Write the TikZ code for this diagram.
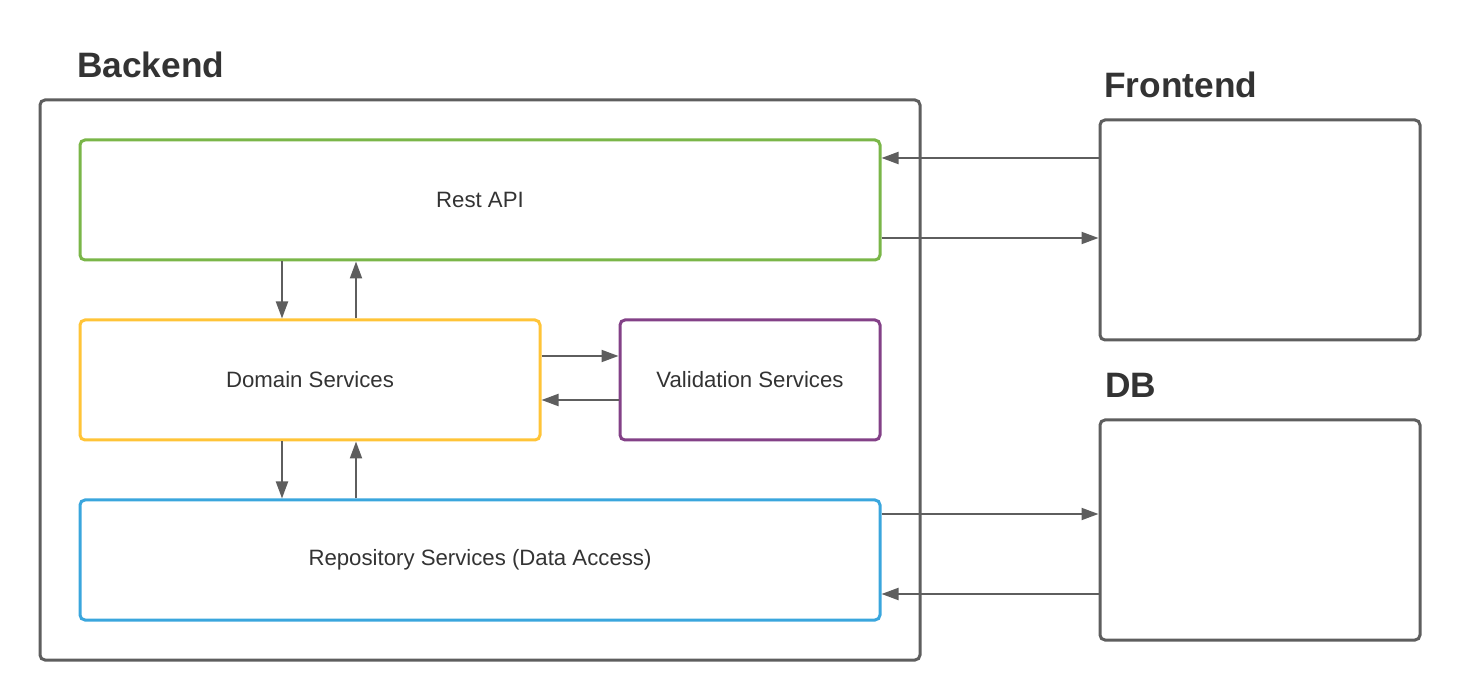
\documentclass[tikz,border=0pt]{standalone}
\usepackage{fontspec}
\setmainfont{Liberation Sans}
\usetikzlibrary{arrows.meta}
\definecolor{lgray}{HTML}{5E5E5E}
\definecolor{txt}{HTML}{333333}
\definecolor{cgreen}{HTML}{7AB648}
\definecolor{cyellow}{HTML}{FFC438}
\definecolor{cpurple}{HTML}{834187}
\definecolor{cblue}{HTML}{3AA6DD}
\tikzset{
  box/.style={draw, line width=3pt, rounded corners=5pt, inner sep=0pt, text=txt},
  outer/.style={box, draw=lgray},
  lbl/.style={text=txt, inner sep=0pt, font=\fontsize{22.2}{26}\selectfont},
  ttl/.style={anchor=base west, inner sep=0pt, text=txt, font=\fontsize{35.3}{42}\selectfont\bfseries},
  arr/.style={draw=lgray, line width=2pt, -{Triangle[length=17pt,width=12pt]}}
}
\begin{document}
\begin{tikzpicture}[x=1pt,y=-1pt]
\useasboundingbox (0,0) rectangle (1460,700);
% containers
\node[outer, minimum width=880, minimum height=560] (back) at (480,380) {};
\node[outer, minimum width=320, minimum height=220] (front) at (1260,230) {};
\node[outer, minimum width=320, minimum height=220] (db) at (1260,530) {};
% titles
\node[ttl] (tback) at (77,78) {Backend};
\node[ttl] (tfront) at (1104,98) {Frontend};
\node[ttl] (tdb) at (1105,398) {DB};
% inner boxes
\node[box, draw=cgreen, minimum width=800, minimum height=120] (rest) at (480,200) {};
\node[lbl] (trest) at (480,200) {Rest API};
\node[box, draw=cyellow, minimum width=460, minimum height=120] (dom) at (310,380) {};
\node[lbl] (tdom) at (310,380) {Domain Services};
\node[box, draw=cpurple, minimum width=260, minimum height=120] (val) at (750,380) {};
\node[lbl] (tval) at (750,380) {Validation Services};
\node[box, draw=cblue, minimum width=800, minimum height=120] (repo) at (480,560) {};
\node[lbl] (trepo) at (480,560) {Repository Services (Data Access)};
% connectors
\draw[arr] (front.west |- 0,158) -- (rest.east |- 0,158);
\draw[arr] (rest.east |- 0,238) -- (front.west |- 0,238);
\draw[arr] (rest.south -| 282,0) -- (dom.north -| 282,0);
\draw[arr] (dom.north -| 356,0) -- (rest.south -| 356,0);
\draw[arr] (dom.east |- 0,356) -- (val.west |- 0,356);
\draw[arr] (val.west |- 0,400) -- (dom.east |- 0,400);
\draw[arr] (dom.south -| 282,0) -- (repo.north -| 282,0);
\draw[arr] (repo.north -| 356,0) -- (dom.south -| 356,0);
\draw[arr] (repo.east |- 0,514) -- (db.west |- 0,514);
\draw[arr] (db.west |- 0,594) -- (repo.east |- 0,594);
\end{tikzpicture}
\end{document}
